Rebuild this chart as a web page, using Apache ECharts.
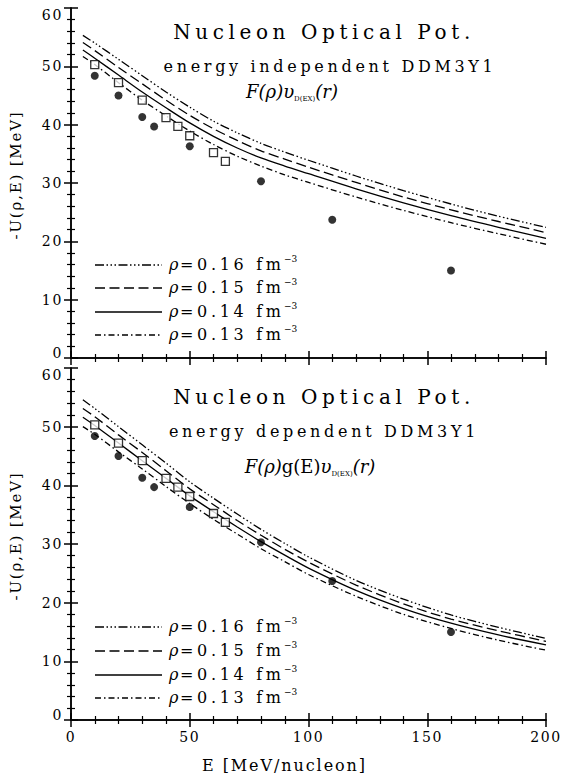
<!DOCTYPE html>
<html><head><meta charset="utf-8">
<script src="https://cdn.jsdelivr.net/npm/echarts@6/dist/echarts.min.js"></script>
<style>
html,body{margin:0;padding:0;background:#fff;}
#chart{width:563px;height:774px;}
#chart svg text{letter-spacing:0.12em;}
#chart svg text[style*=", serif"]{letter-spacing:0.23em;}
#chart svg text[style*="cursive"]{letter-spacing:0;}
</style></head><body><div id="chart"></div>
<script>
// ---- data ----
const energyGrid = [5,10,20,30,40,50,60,70,80,90,100,120,140,160,180,200];
const indepRho016 = [55.3,54.0,51.2,48.4,45.6,43.0,40.6,38.6,36.8,35.3,33.9,31.2,28.7,26.4,24.3,22.4];
const indepRho015 = [54.1,52.7,49.8,47.0,44.2,41.6,39.3,37.3,35.5,34.1,32.7,30.1,27.6,25.4,23.4,21.5];
const indepRho014 = [52.8,51.4,48.5,45.6,42.9,40.3,38.0,36.0,34.3,32.9,31.6,29.0,26.6,24.4,22.4,20.5];
const indepRho013 = [51.7,50.3,47.2,44.2,41.5,38.9,36.6,34.6,32.9,31.4,30.1,27.6,25.3,23.2,21.3,19.5];
const depRho016 = [54.6,53.1,50.0,46.9,43.8,40.6,37.8,35.1,32.5,30.1,27.8,23.8,20.6,17.9,15.8,13.9];
const depRho015 = [53.1,51.7,48.6,45.6,42.5,39.4,36.7,34.0,31.5,29.1,26.9,23.0,19.8,17.2,15.2,13.4];
const depRho014 = [51.6,50.2,47.2,44.2,41.2,38.2,35.5,32.9,30.4,28.1,25.9,22.1,19.0,16.5,14.5,12.8];
const depRho013 = [50.0,48.7,45.7,42.8,39.8,36.9,34.2,31.7,29.2,27.0,24.8,21.1,18.0,15.6,13.6,11.9];
const circleE = [10,20,30,35,50,80,110,160];
const circleU = [48.4,45.0,41.3,39.7,36.3,30.3,23.7,15.0];
const squareE = [10,20,30,40,45,50,60,65];
const squareU = [50.3,47.2,44.2,41.2,39.7,38.1,35.2,33.7];
const legendLabels = ['0.16','0.15','0.14','0.13'];
const xTicks = [0,50,100,150,200];
const yTicks = [0,10,20,30,40,50,60];

// ---- styles ----
const FONT = 'DejaVu Serif';              // axis texts
const FONT_WIDE = 'DejaVu Serif, serif';  // annotations (wide tracking)
const FONT_RICH = 'DejaVu Serif, cursive';// rich tokens (no tracking)
const dashStyles = [[9,2.5,1.5,2.5,1.5,2.5,1.5,2.5],[10,4.5],'solid',[6,3,1.5,3]];
const pair = (xs, ys) => xs.map((x, i) => [x, ys[i]]);
const X_MIN = xTicks[0], X_MAX = xTicks[xTicks.length-1];
const Y_MIN = yTicks[0], Y_MAX = yTicks[yTicks.length-1];

const chart = echarts.init(document.getElementById('chart'), null, {renderer: 'svg'});

function xAxisDef(gridIndex, position, showLabel) {
  return {
    type: 'value', gridIndex, position, min: X_MIN, max: X_MAX, interval: 50,
    axisLine: {show: true, lineStyle: {color: '#000', width: 1.5}},
    axisTick: {show: true, inside: true, length: 7, lineStyle: {color: '#000', width: 1.5}},
    minorTick: {show: true, splitNumber: 5, length: 4, lineStyle: {color: '#000', width: 1.2}},
    splitLine: {show: false},
    axisLabel: {show: showLabel, color: '#000', fontFamily: FONT, fontSize: 14, margin: 10},
    name: showLabel ? 'E [MeV/nucleon]' : null, nameLocation: 'middle', nameGap: 37,
    nameTextStyle: {color: '#000', fontFamily: FONT, fontSize: 16, padding: [0, 48, 0, 0]}
  };
}
function yAxisDef(gridIndex, position, showLabel) {
  return {
    type: 'value', gridIndex, position, min: Y_MIN, max: Y_MAX, interval: 10,
    axisLine: {show: true, lineStyle: {color: '#000', width: 1.5}},
    axisTick: {show: true, inside: true, length: 7, lineStyle: {color: '#000', width: 1.5}},
    minorTick: {show: true, splitNumber: 5, length: 4, lineStyle: {color: '#000', width: 1.2}},
    splitLine: {show: false},
    axisLabel: {show: showLabel, color: '#000', fontFamily: FONT, fontSize: 14, margin: 8,
      formatter: v => v === Y_MAX ? '{dn|' + v + '}' : (v === Y_MIN ? '{up|' + v + '}' : String(v)),
      rich: {
        dn: {fontFamily: FONT, fontSize: 14, color: '#000', padding: [14, 0, 0, 0]},
        up: {fontFamily: FONT, fontSize: 14, color: '#000', padding: [0, 0, 10, 0]}
      }},
    name: showLabel ? '-U(ρ,E) [MeV]' : null, nameLocation: 'middle', nameGap: 48, nameRotate: 90,
    nameTextStyle: {color: '#000', fontFamily: FONT, fontSize: 15, padding: [0, 0, 0, 16]}
  };
}

const curveSets = [[indepRho016, indepRho015, indepRho014, indepRho013],[depRho016, depRho015, depRho014, depRho013]];
const series = [];
curveSets.forEach((set, p) => {
  set.forEach((vals, k) => {
    series.push({
      type: 'line', xAxisIndex: p*2, yAxisIndex: p*2, data: pair(energyGrid, vals),
      symbol: 'none', smooth: 0.3, silent: true,
      lineStyle: {color: '#000', width: 1.3, type: dashStyles[k]}
    });
  });
  series.push({type: 'scatter', xAxisIndex: p*2, yAxisIndex: p*2, data: pair(squareE, squareU),
    symbol: 'rect', symbolSize: 8, itemStyle: {color: '#fff', borderColor: '#000', borderWidth: 1.3}, z: 5});
  series.push({type: 'scatter', xAxisIndex: p*2, yAxisIndex: p*2, data: pair(circleE, circleU),
    symbol: 'circle', symbolSize: 8, itemStyle: {color: '#000'}, z: 6});
});

// ---- annotations ----
const graphics = [];
function txt(x, y, text, size, family, extra) {
  graphics.push({type: 'text', x, y, z: 100,
    style: Object.assign({text, fill: '#000', font: 'normal ' + size + 'px ' + family, align: 'center', verticalAlign: 'middle'}, extra || {})});
}
const panelText = [
  {title: 32, sub: 66, subText: 'energy independent DDM3Y1', subX: 330, f: 91, fX: 292,
   fText: '{i|F(ρ)υ}{s|D(EX)}{i|(r)}', leg: [265, 288, 312, 335]},
  {title: 397, sub: 431, subText: 'energy dependent DDM3Y1', subX: 324, f: 466, fX: 310,
   fText: '{i|F(ρ)}{r|g(E)}{i|υ}{s|D(EX)}{i|(r)}', leg: [627, 651, 675, 698]}
];
const richF = {
  i: {fontFamily: FONT_RICH, fontStyle: 'italic', fontSize: 18, lineHeight: 22},
  r: {fontFamily: FONT_RICH, fontSize: 18, lineHeight: 22},
  s: {fontFamily: FONT_RICH, fontSize: 7, verticalAlign: 'bottom', lineHeight: 20}
};
panelText.forEach(pt => {
  txt(324, pt.title, 'Nucleon Optical Pot.', 20, FONT_WIDE);
  txt(pt.subX, pt.sub, pt.subText, 16, FONT_WIDE);
  txt(pt.fX, pt.f, pt.fText, 18, FONT_RICH, {rich: richF});
  pt.leg.forEach((y, k) => {
    graphics.push({type: 'line', z: 100, shape: {x1: 95, y1: y, x2: 162, y2: y},
      style: {stroke: '#000', lineWidth: 1.3, lineDash: dashStyles[k] === 'solid' ? null : dashStyles[k]}});
    txt(169, y - 1, 'ρ', 16, FONT_RICH, {align: 'left', font: 'italic 16px ' + FONT_RICH});
    txt(180, y - 1, '=' + legendLabels[k] + ' fm', 16, FONT_WIDE, {align: 'left'});
    txt(284, y - 6, '−3', 9, FONT_RICH, {align: 'left'});
  });
});

chart.setOption({
  animation: false,
  backgroundColor: '#fff',
  grid: [
    {left: 71, top: 8, width: 475, height: 350},
    {left: 71, top: 368, width: 475, height: 354}
  ],
  xAxis: [xAxisDef(0, 'bottom', false), xAxisDef(0, 'top', false), xAxisDef(1, 'bottom', true), xAxisDef(1, 'top', false)],
  yAxis: [yAxisDef(0, 'left', true), yAxisDef(0, 'right', false), yAxisDef(1, 'left', true), yAxisDef(1, 'right', false)],
  series,
  graphic: graphics
});
</script></body></html>
